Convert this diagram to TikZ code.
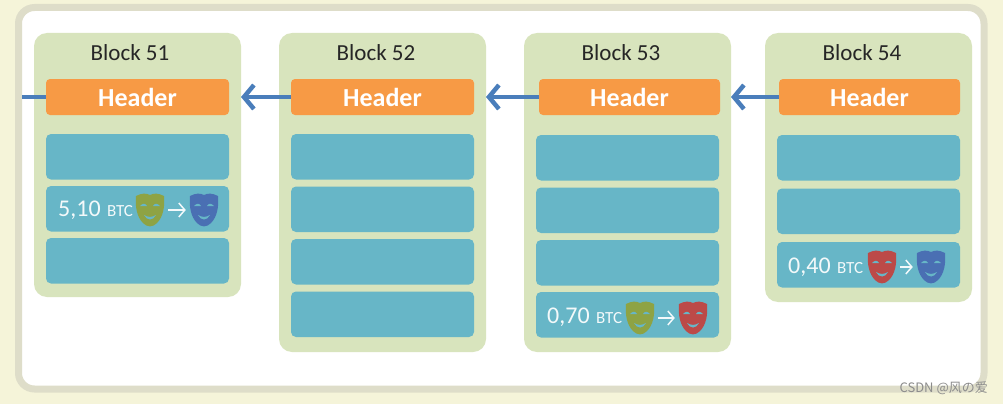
\documentclass[tikz,border=0pt]{standalone}
\usepackage{xcolor}
\usepackage{fontspec}
\setmainfont{Carlito}
\newfontfamily\markfont{Noto Sans CJK SC}
\usetikzlibrary{arrows.meta,positioning}
\definecolor{bkpaper}{HTML}{F5F4D9}
\definecolor{bkframe}{HTML}{DEDDC9}
\definecolor{bkpanel}{HTML}{D8E4BD}
\definecolor{bkhead}{HTML}{F79A45}
\definecolor{bkslot}{HTML}{67B6C7}
\definecolor{bklink}{HTML}{4A7EBB}
\definecolor{bkolive}{HTML}{8EA344}
\definecolor{bkblue}{HTML}{4A6FB3}
\definecolor{bkred}{HTML}{BC4A48}
\tikzset{
  bk panel/.style={
    rectangle,
    rounded corners=13pt,
    fill=bkpanel,
    anchor=north west,
    minimum width=207pt,
    outer sep=0pt,
  },
  bk title/.style={
    font=\fontsize{23}{26}\selectfont,
    text=black!85,
    inner sep=0pt,
  },
  bk header/.style={
    rectangle,
    rounded corners=4pt,
    fill=bkhead,
    minimum width=183pt,
    minimum height=36pt,
    font=\fontsize{26}{30}\selectfont\bfseries,
    text=white,
    outer sep=0pt,
    inner sep=0pt,
  },
  bk slot/.style={
    rectangle,
    rounded corners=5pt,
    fill=bkslot,
    minimum width=183pt,
    minimum height=45.5pt,
    outer sep=0pt,
    inner sep=0pt,
  },
  bk amount/.style={
    font=\fontsize{24}{28}\selectfont,
    text=white!92!bkslot,
    inner sep=0pt,
  },
  bk unit/.style={
    font=\fontsize{17}{20}\selectfont,
    text=white!92!bkslot,
    inner sep=0pt,
  },
  bk point/.style={circle, inner sep=0pt, minimum size=28pt},
  bk arrow/.style={{Straight Barb[length=10pt,width=24pt]}-, line width=4.5pt, draw=bklink},
  bk line/.style={line width=4.5pt, draw=bklink},
  bk pay/.style={-{Straight Barb[length=6pt,width=14pt]}, line width=1.5pt, draw=white!92!bkslot, shorten >=4pt, shorten <=4pt},
  pics/bk mask/.style={
    code={
      \fill[#1] (-14,-14) .. controls (-8,-17) and (-4,-17) .. (0,-15)
        .. controls (4,-17) and (8,-17) .. (14,-14)
        .. controls (15,-3) and (13,7) .. (7,13)
        .. controls (3,17.5) and (-3,17.5) .. (-7,13)
        .. controls (-13,7) and (-15,-3) .. cycle;
      \fill[bkslot] (-10,-4) .. controls (-7,-7) and (-5,-7) .. (-3,-4) -- cycle;
      \fill[bkslot] (10,-4) .. controls (7,-7) and (5,-7) .. (3,-4) -- cycle;
      \fill[bkslot] (-6,5) .. controls (-2,7.5) and (2,7.5) .. (6,5)
        .. controls (3,11) and (-3,11) .. cycle;
    }
  },
}

\begin{document}
\begin{tikzpicture}[x=1pt,y=-1pt]
  \useasboundingbox (0,0) rectangle (1003,404);
  \fill[bkpaper] (0,0) rectangle (1003,404);
  \draw[bkframe,line width=7pt,fill=white,rounded corners=16pt] (18.5,7.5) rectangle (984,389);

  % the four blocks
  \node[bk panel,minimum height=264pt] (panelA) at (34,33) {};
  \node[bk panel,minimum height=319pt] (panelB) at (279,33) {};
  \node[bk panel,minimum height=319pt] (panelC) at (524,33) {};
  \node[bk panel,minimum height=269pt] (panelD) at (765,33) {};

  \node[bk title] (titleA) at (130,53) {Block 51};
  \node[bk title] (titleB) at (376,53) {Block 52};
  \node[bk title] (titleC) at (621,53) {Block 53};
  \node[bk title] (titleD) at (862,53) {Block 54};

  \node[bk header] (headA) at (137.5,97) {Header};
  \node[bk header] (headB) at (382.5,97) {Header};
  \node[bk header,minimum width=181pt] (headC) at (629.5,97) {Header};
  \node[bk header,minimum width=181pt] (headD) at (869.5,97) {Header};

  \node[bk slot,below=19pt of headA] (slotA1) {};
  \node[bk slot,below=6.5pt of slotA1] (slotA2) {};
  \node[bk slot,below=6.5pt of slotA2] (slotA3) {};

  \node[bk slot,below=19pt of headB] (slotB1) {};
  \node[bk slot,below=7pt of slotB1] (slotB2) {};
  \node[bk slot,below=7pt of slotB2] (slotB3) {};
  \node[bk slot,below=7pt of slotB3] (slotB4) {};

  \node[bk slot,below=20pt of headC,xshift=-2pt] (slotC1) {};
  \node[bk slot,below=7pt of slotC1] (slotC2) {};
  \node[bk slot,below=7pt of slotC2] (slotC3) {};
  \node[bk slot,below=6.5pt of slotC3] (slotC4) {};

  \node[bk slot,below=20pt of headD,xshift=-1pt] (slotD1) {};
  \node[bk slot,below=8pt of slotD1] (slotD2) {};
  \node[bk slot,below=8pt of slotD2] (slotD3) {};

  % amounts
  \node[bk amount,anchor=west] (sumA) at (58,210.5) {5,10};
  \node[bk unit,anchor=west] (unitA) at (107,211) {BTC};
  \node[bk point] (fromA) at (150,210) {};
  \node[bk point] (toA) at (204,210) {};
  \pic at (fromA) {bk mask=bkolive};
  \pic at (toA) {bk mask=bkblue};
  \draw[bk pay] (fromA) -- (toA);

  \node[bk amount,anchor=west] (sumC) at (547,317.5) {0,70};
  \node[bk unit,anchor=west] (unitC) at (596,318) {BTC};
  \node[bk point] (fromC) at (640,318) {};
  \node[bk point] (toC) at (693,318) {};
  \pic at (fromC) {bk mask=bkolive};
  \pic at (toC) {bk mask=bkred};
  \draw[bk pay] (fromC) -- (toC);

  \node[bk amount,anchor=west] (sumD) at (788,267.5) {0,40};
  \node[bk unit,anchor=west] (unitD) at (837,268) {BTC};
  \node[bk point] (fromD) at (882,267) {};
  \node[bk point] (toD) at (931,267) {};
  \pic at (fromD) {bk mask=bkred};
  \pic at (toD) {bk mask=bkblue};
  \draw[bk pay] (fromD) -- (toD);

  % links
  \coordinate (stub) at (22,97);
  \draw[bk line] (stub) -- (headA.west);
  \draw[bk arrow] (panelA.east |- headA) -- (headB.west);
  \draw[bk arrow] (panelB.east |- headB) -- (headC.west);
  \draw[bk arrow] (panelC.east |- headC) -- (headD.west);

  \node[font=\markfont\fontsize{13}{15}\selectfont,text=black!45,inner sep=0pt,anchor=east] (mark) at (988,388) {CSDN @风の爱};
\end{tikzpicture}
\end{document}
